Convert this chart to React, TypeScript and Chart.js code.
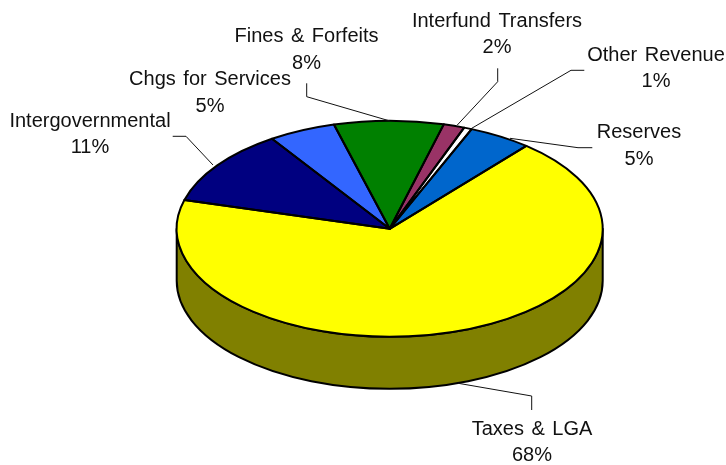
import React, { useEffect, useRef } from "react";
import { Chart, registerables } from "chart.js";

Chart.register(...registerables);

const categories = ["Taxes & LGA", "Intergovernmental", "Chgs for Services", "Fines & Forfeits", "Interfund Transfers", "Other Revenue", "Reserves"];
const revenueShare = [68.2, 11.4, 5.1, 8.3, 1.6, 0.6, 4.8];
const sliceColors = ["#FFFF00", "#000080", "#3366FF", "#008000", "#993366", "#FFFFFF", "#0066CC"];
const wallColors = ["#808000", "#000040", "#1A3380", "#004000", "#4D1A33", "#808080", "#003366"];

// Pie projection on the page
const PIE = { cx: 389.7, cy: 228.8, rx: 213, ry: 108, depth: 52, rotation: 39.9 };
const FONT = '20px "Liberation Sans", Arial, sans-serif';

// Label placement: text centre, two baselines, then the leader-line path
const labelLayout = [
  { x: 532, y1: 435, y2: 461, leader: [[531.7, 410], [531.7, 396], [458.3, 383.3]] },
  { x: 90, y1: 127, y2: 153, leader: [[172.7, 136.3], [186, 136.3], [213, 165]] },
  { x: 210, y1: 85, y2: 111.5, leader: [] },
  { x: 306.5, y1: 41.5, y2: 69, leader: [[306.7, 83.3], [306.7, 96.7], [390, 121]] },
  { x: 497, y1: 27, y2: 53, leader: [[497.7, 68.3], [497.7, 81.7], [457.3, 125]] },
  { x: 656, y1: 61, y2: 87, leader: [[584.3, 70.3], [571, 70.3], [471.7, 128.3]] },
  { x: 639, y1: 138, y2: 165, leader: [[592.3, 147.7], [578, 147.7], [510, 138.3]] },
];

const pie3d = {
  id: "pie3d",
  beforeDatasetsDraw(chart: any) {
    const ctx = chart.ctx;
    const arcs = chart.getDatasetMeta(0).data;
    // extruded wall: only the front (lower) half of each slice is visible
    arcs.forEach((arc: any, i: number) => {
      const a = Math.max(arc.startAngle, 0);
      const b = Math.min(arc.endAngle, Math.PI);
      if (b <= a) return;
      ctx.beginPath();
      ctx.ellipse(PIE.cx, PIE.cy, PIE.rx, PIE.ry, 0, a, b);
      ctx.ellipse(PIE.cx, PIE.cy + PIE.depth, PIE.rx, PIE.ry, 0, b, a, true);
      ctx.closePath();
      ctx.fillStyle = wallColors[i];
      ctx.fill();
      ctx.lineWidth = 2;
      ctx.strokeStyle = "#000";
      ctx.lineJoin = "round";
      ctx.stroke();
    });
    // squash the library's circular pie onto the ellipse
    const first = arcs[0];
    ctx.save();
    ctx.translate(PIE.cx, PIE.cy);
    ctx.scale(PIE.rx / first.outerRadius, PIE.ry / first.outerRadius);
    ctx.translate(-first.x, -first.y);
  },
  afterDatasetsDraw(chart: any) {
    const ctx = chart.ctx;
    ctx.restore();
    const arcs = chart.getDatasetMeta(0).data;
    arcs.forEach((arc: any) => {
      ctx.beginPath();
      ctx.moveTo(PIE.cx, PIE.cy);
      ctx.ellipse(PIE.cx, PIE.cy, PIE.rx, PIE.ry, 0, arc.startAngle, arc.endAngle);
      ctx.closePath();
      ctx.lineWidth = 2;
      ctx.strokeStyle = "#000";
      ctx.lineJoin = "round";
      ctx.stroke();
    });
    const total = revenueShare.reduce((s, v) => s + v, 0);
    ctx.font = FONT;
    ctx.wordSpacing = "2px";
    ctx.fillStyle = "#111";
    ctx.textAlign = "center";
    ctx.textBaseline = "alphabetic";
    categories.forEach((name, i) => {
      const l = labelLayout[i];
      ctx.fillText(name, l.x, l.y1);
      ctx.fillText(Math.round((revenueShare[i] / total) * 100) + "%", l.x, l.y2);
      if (l.leader.length) {
        ctx.beginPath();
        l.leader.forEach((p, k) => (k ? ctx.lineTo(p[0], p[1]) : ctx.moveTo(p[0], p[1])));
        ctx.lineWidth = 1;
        ctx.strokeStyle = "#111";
        ctx.stroke();
      }
    });
  },
};

export default function App() {
  const ref = useRef<HTMLCanvasElement>(null);
  useEffect(() => {
    const chart = new Chart(ref.current as HTMLCanvasElement, {
      type: "pie",
      data: {
        labels: categories,
        datasets: [{ data: revenueShare, backgroundColor: sliceColors, borderWidth: 0, clip: false } as any],
      },
      options: {
        responsive: false,
        animation: false,
        rotation: PIE.rotation,
        layout: { padding: 0 },
        plugins: { legend: { display: false }, tooltip: { enabled: false } },
      },
      plugins: [pie3d],
    } as any);
    return () => chart.destroy();
  }, []);
  return (
    <canvas
      ref={ref}
      width={726}
      height={465}
      style={{ position: "fixed", left: 0, top: 0, width: 726, height: 465, background: "#fff" }}
    />
  );
}
